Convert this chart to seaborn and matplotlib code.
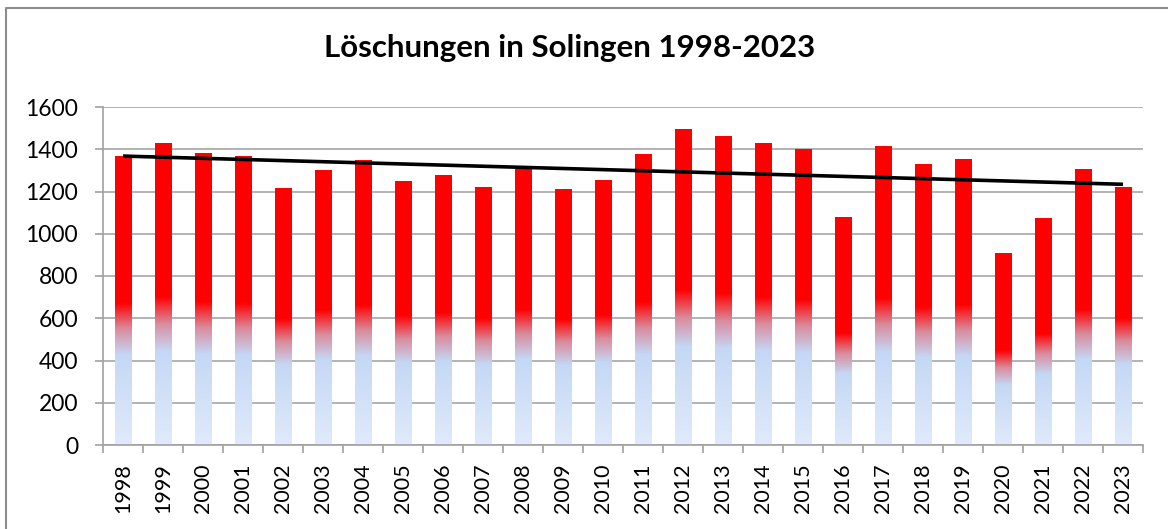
import numpy as np
import matplotlib
matplotlib.use("Agg")
import matplotlib.pyplot as plt
import seaborn as sns
from matplotlib.colors import LinearSegmentedColormap
from matplotlib.lines import Line2D
from matplotlib.ticker import FixedLocator, MultipleLocator

years = ["1998", "1999", "2000", "2001", "2002", "2003", "2004", "2005", "2006",
         "2007", "2008", "2009", "2010", "2011", "2012", "2013", "2014", "2015",
         "2016", "2017", "2018", "2019", "2020", "2021", "2022", "2023"]
values = [1369, 1431, 1383, 1369, 1218, 1303, 1350, 1251, 1279, 1222, 1308, 1213,
          1256, 1379, 1497, 1464, 1431, 1402, 1080, 1417, 1331, 1355, 910, 1075,
          1308, 1222]
title = "Löschungen in Solingen 1998-2023"

sns.set_theme(style="white")
plt.rcParams["font.family"] = ["Lato", "DejaVu Sans"]

W, H = 1168, 529
fig = plt.figure(figsize=(W / 100, H / 100), dpi=100)
ax = fig.add_axes([103 / W, 1 - 445 / H, (1143 - 103) / W, (445 - 107) / H])

sns.barplot(x=years, y=values, color="red", width=0.42, saturation=1, ax=ax)

cmap = LinearSegmentedColormap.from_list(
    "grad", [(0.0, "#e0eafa"), (0.31, "#c4d8f5"), (0.40, "#d98c9e"),
             (0.49, "#ff0000"), (1.0, "#ff0000")])
grad = np.linspace(0, 1, 256).reshape(-1, 1)
for p in ax.patches:
    x, y = p.get_x(), p.get_y()
    w, h = p.get_width(), p.get_height()
    p.set_facecolor("none")
    p.set_edgecolor("none")
    im = ax.imshow(grad, extent=[x, x + w, y, y + h], origin="lower", cmap=cmap,
                   aspect="auto", zorder=2, interpolation="bilinear")
    im.set_clip_path(p)

n = len(values)
xs = np.arange(n)
coef = np.polyfit(xs, values, 1)
ax.plot(xs, np.polyval(coef, xs), color="black", lw=2.6, zorder=3,
        solid_capstyle="butt")

ax.set_xlim(-0.5, n - 0.5)
ax.set_ylim(0, 1600)
ax.yaxis.set_major_locator(MultipleLocator(200))
ax.set_axisbelow(True)
ax.yaxis.grid(True, color="#a6a6a6", lw=1.2)
ax.xaxis.grid(False)
for s in ["top", "right"]:
    ax.spines[s].set_visible(False)
for s in ["left", "bottom"]:
    ax.spines[s].set_color("#a0a0a0")
    ax.spines[s].set_linewidth(1.2)

ax.set_xlabel("")
ax.set_ylabel("")
ax.tick_params(axis="x", which="major", length=0, labelrotation=90, labelsize=15.5,
               pad=13, labelcolor="black")
ax.xaxis.set_minor_locator(FixedLocator(np.arange(-0.5, n, 1.0)))
ax.tick_params(axis="x", which="minor", length=6, width=1.2, color="#a0a0a0",
               direction="out", bottom=True)
ax.tick_params(axis="y", which="major", length=6, width=1.2, color="#a0a0a0",
               direction="out", left=True, labelsize=16.5, pad=12, labelcolor="black")

fig.text(570 / W, 1 - 57 / H, title, ha="center", va="baseline", fontsize=22.5,
         fontweight="bold", color="black")

fig.lines.append(Line2D([6 / W, 6 / W, 1.0], [0.0, 1 - 8 / H, 1 - 8 / H],
                        transform=fig.transFigure, color="#8c8c8c", lw=1.5))

fig.savefig("out.png", dpi=100)
